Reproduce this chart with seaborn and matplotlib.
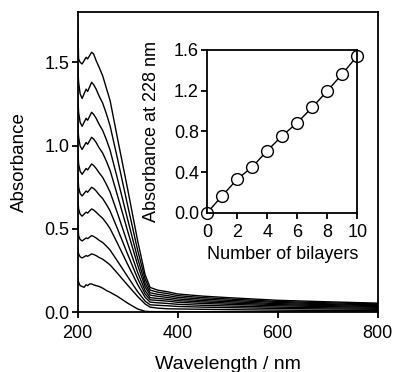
import numpy as np
import pandas as pd
import matplotlib
matplotlib.use("Agg")
import matplotlib.pyplot as plt
import seaborn as sns

# ---------------- data ----------------
wavelength = [200, 202, 205, 209, 213, 217, 220, 224, 228, 232, 237, 243, 250, 258,
              265, 280, 300, 320, 335, 345, 360, 380, 400, 450, 500, 600, 700, 800]

spec_1 = [0.21, 0.18, 0.16, 0.155, 0.15, 0.165, 0.16, 0.17, 0.17, 0.165, 0.16, 0.155, 0.145, 0.13,
          0.12, 0.095, 0.055, 0.02, 0.006, 0.004, 0.004, 0.004, 0.004, 0.003, 0.003, 0.002, 0.002, 0.002]
spec_2 = [0.39, 0.35, 0.333, 0.326, 0.333, 0.340, 0.336, 0.343, 0.35, 0.347, 0.340, 0.329, 0.319, 0.301,
          0.284, 0.233, 0.163, 0.095, 0.05, 0.031, 0.025, 0.021, 0.02, 0.018, 0.016, 0.013, 0.011, 0.010]
spec_3 = [0.56, 0.46, 0.437, 0.428, 0.437, 0.446, 0.442, 0.451, 0.46, 0.455, 0.446, 0.432, 0.419, 0.396,
          0.373, 0.306, 0.214, 0.124, 0.067, 0.045, 0.042, 0.039, 0.035, 0.031, 0.028, 0.023, 0.020, 0.018]
spec_4 = [0.70, 0.62, 0.589, 0.577, 0.589, 0.601, 0.595, 0.608, 0.62, 0.614, 0.601, 0.583, 0.564, 0.533,
          0.502, 0.412, 0.288, 0.167, 0.090, 0.061, 0.057, 0.053, 0.048, 0.042, 0.038, 0.031, 0.027, 0.024]
spec_5 = [0.85, 0.75, 0.713, 0.698, 0.713, 0.728, 0.72, 0.735, 0.75, 0.743, 0.728, 0.705, 0.683, 0.645,
          0.608, 0.499, 0.349, 0.203, 0.11, 0.075, 0.071, 0.067, 0.06, 0.053, 0.048, 0.039, 0.034, 0.030]
spec_6 = [0.99, 0.89, 0.846, 0.828, 0.846, 0.863, 0.854, 0.872, 0.89, 0.881, 0.863, 0.837, 0.81, 0.765,
          0.721, 0.592, 0.414, 0.240, 0.130, 0.088, 0.083, 0.078, 0.07, 0.062, 0.056, 0.046, 0.040, 0.035]
spec_7 = [1.14, 1.05, 0.998, 0.977, 0.998, 1.019, 1.008, 1.029, 1.05, 1.04, 1.019, 0.987, 0.956, 0.903,
          0.851, 0.698, 0.488, 0.284, 0.153, 0.103, 0.096, 0.089, 0.08, 0.070, 0.064, 0.052, 0.046, 0.040]
spec_8 = [1.31, 1.20, 1.14, 1.116, 1.14, 1.164, 1.152, 1.176, 1.20, 1.188, 1.164, 1.128, 1.092, 1.032,
          0.972, 0.798, 0.558, 0.324, 0.174, 0.117, 0.108, 0.10, 0.09, 0.079, 0.072, 0.059, 0.051, 0.045]
spec_9 = [1.49, 1.38, 1.311, 1.283, 1.311, 1.339, 1.325, 1.352, 1.38, 1.366, 1.339, 1.297, 1.256, 1.187,
          1.118, 0.918, 0.642, 0.373, 0.199, 0.133, 0.121, 0.112, 0.10, 0.088, 0.08, 0.065, 0.057, 0.05]
spec_10 = [1.75, 1.52, 1.50, 1.49, 1.51, 1.53, 1.52, 1.54, 1.56, 1.55, 1.51, 1.47, 1.42, 1.34,
           1.27, 1.04, 0.74, 0.43, 0.225, 0.149, 0.133, 0.123, 0.11, 0.097, 0.088, 0.072, 0.063, 0.055]

spectra = [spec_1, spec_2, spec_3, spec_4, spec_5, spec_6, spec_7, spec_8, spec_9, spec_10]

bilayers = [0, 1, 2, 3, 4, 5, 6, 7, 8, 9, 10]
abs228 = [0.0, 0.167, 0.33, 0.45, 0.61, 0.757, 0.885, 1.036, 1.197, 1.364, 1.541]

main_xticks = [200, 400, 600, 800]
main_yticks = [0.0, 0.5, 1.0, 1.5]
main_yticklabels = ["0.0", "0.5", "1.0", "1.5"]
inset_xticks = [0, 2, 4, 6, 8, 10]
inset_yticks = [0.0, 0.4, 0.8, 1.2, 1.6]
inset_yticklabels = ["0.0", "0.4", "0.8", "1.2", "1.6"]

# ---------------- style ----------------
sns.set_style("ticks")
plt.rcParams['font.family'] = ['Liberation Sans', 'DejaVu Sans']
plt.rcParams['axes.linewidth'] = 1.3
plt.rcParams['text.color'] = 'black'
plt.rcParams['axes.labelcolor'] = 'black'
plt.rcParams['xtick.color'] = 'black'
plt.rcParams['ytick.color'] = 'black'
plt.rcParams['axes.edgecolor'] = 'black'

rows = []
for i, s in enumerate(spectra):
    for w, a in zip(wavelength, s):
        rows.append({"Wavelength": w, "Absorbance": a, "curve": i + 1})
df = pd.DataFrame(rows)
dfi = pd.DataFrame({"n": bilayers, "A": abs228})

fig = plt.figure(figsize=(3.94, 3.72), dpi=100)
ax = fig.add_axes([0.197, 0.1605, 0.7614, 0.8065])
sns.lineplot(data=df, x="Wavelength", y="Absorbance", hue="curve",
             palette=["black"] * len(spectra), legend=False, linewidth=1.0, ax=ax)
ax.set_xlim(200, 800)
ax.set_ylim(0, 1.8)
ax.set_xticks(main_xticks)
ax.set_xticklabels([str(t) for t in main_xticks])
ax.set_yticks(main_yticks)
ax.set_yticklabels(main_yticklabels)
ax.tick_params(axis='both', direction='out', length=4, width=1.3, labelsize=13,
               colors='black', labelcolor='black')
ax.tick_params(axis='x', pad=5)
ax.tick_params(axis='y', pad=2)
ax.set_xlabel("Wavelength / nm", fontsize=14, labelpad=10, color='black')
ax.set_ylabel("Absorbance", fontsize=13.5, labelpad=12, color='black')
for sp in ax.spines.values():
    sp.set_visible(True)
    sp.set_color('black')

axi = fig.add_axes([0.526, 0.4282, 0.3807, 0.4374])
sns.lineplot(data=dfi, x="n", y="A", color="black", linewidth=1.0, marker="o",
             markersize=8.5, markerfacecolor="white", markeredgecolor="black",
             markeredgewidth=1.0, ax=axi)
for ln in axi.lines:
    ln.set_clip_on(False)
axi.set_xlim(0, 10)
axi.set_ylim(0, 1.6)
axi.set_xticks(inset_xticks)
axi.set_xticklabels([str(t) for t in inset_xticks])
axi.set_yticks(inset_yticks)
axi.set_yticklabels(inset_yticklabels)
axi.tick_params(axis='both', direction='out', length=4, width=1.3, labelsize=13,
                colors='black', labelcolor='black')
axi.tick_params(axis='x', pad=4)
axi.tick_params(axis='y', pad=2)
axi.set_xlabel("Number of bilayers", fontsize=13, labelpad=4, color='black')
axi.set_ylabel("Absorbance at 228 nm", fontsize=13, labelpad=10, color='black')
for sp in axi.spines.values():
    sp.set_visible(True)
    sp.set_color('black')

fig.savefig("out.png", dpi=100)
